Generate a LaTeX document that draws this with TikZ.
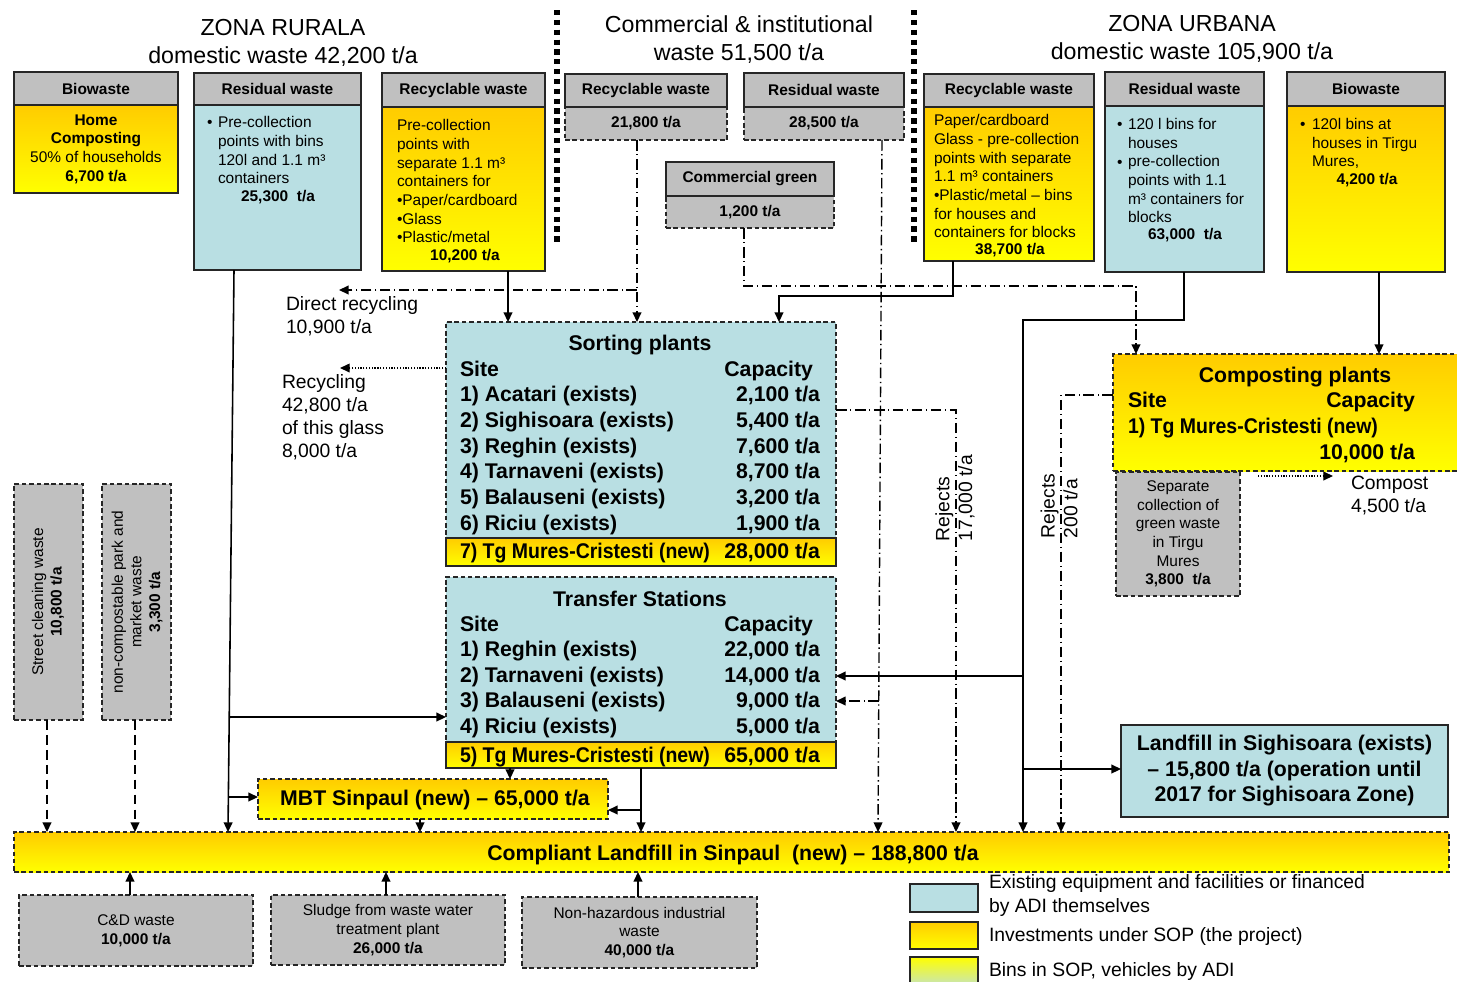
\documentclass[tikz,border=0pt]{standalone}
\usepackage{fontspec}
\setmainfont{Liberation Sans}
\usetikzlibrary{arrows.meta,fit}
\definecolor{grayb}{RGB}{192,192,192}
\definecolor{lblue}{RGB}{185,223,227}
\definecolor{ytop}{RGB}{255,204,0}
\definecolor{ybot}{RGB}{255,255,0}
\newcommand\fzT{\fontsize{13.2}{15.9}\selectfont}
\newcommand\fzS{\fontsize{8.8}{10.6}\selectfont}
\newcommand\fzSB{\fontsize{8.8}{10.6}\selectfont\bfseries}
\newcommand\fzB{\fontsize{12.1}{14.5}\selectfont\bfseries}
\newcommand\fzM{\fontsize{11}{13}\selectfont}
\begin{document}
\begin{tikzpicture}[x=0.02cm,y=-0.02cm,
  every node/.style={inner sep=0pt,outer sep=0pt},
  box/.style={draw=black!85,line width=0.7pt,inner sep=0pt},
  hdr/.style={box,fill=grayb},
  blu/.style={box,fill=lblue},
  ylw/.style={box,top color=ytop,bottom color=ybot},
  gry/.style={box,fill=grayb},
  dsh/.style={dash pattern=on 2.6pt off 1.6pt},
  ts/.style={font=\fzS},
  tsb/.style={font=\fzSB},
  tb/.style={font=\fzB},
  tm/.style={font=\fzM},
  narrowtxt/.style={xscale=0.916},
  arrtip/.style={-{Triangle[length=5.5pt,width=5pt]}},
  arrS/.style={line width=0.9pt,arrtip},
  arrDD/.style={line width=0.8pt,dash pattern=on 6pt off 2pt on 0.8pt off 2pt,arrtip},
  arrDash/.style={line width=0.9pt,dash pattern=on 5.5pt off 3pt,arrtip},
  arrDot/.style={line width=0.7pt,dash pattern=on 0.7pt off 0.9pt,arrtip},
  sepline/.style={line width=3pt,dash pattern=on 3pt off 2.6pt}
]
\useasboundingbox (0,0) rectangle (1457,981);

% ---------- titles and separators
\node[font=\fzT,align=center] (tZR) at (283,43) {ZONA RURALA\\domestic waste 42,200 t/a};
\node[font=\fzT,align=center] (tCI) at (739,40) {Commercial \& institutional\\waste 51,500 t/a};
\node[font=\fzT,align=center] (tZU) at (1192,39) {ZONA URBANA\\domestic waste 105,900 t/a};
\draw[sepline] (557,10) -- (557,246);
\draw[sepline] (914,10) -- (914,246);

% ---------- top boxes: bodies
\node[ylw,fit={(14,105)(178,193)}] (bBioR) {};
\node[blu,fit={(194,105)(361,270)}] (bResR) {};
\node[ylw,fit={(382,107)(545,271)}] (bRecR) {};
\node[gry,dsh,fit={(565,107)(727,140)}] (bRecC) {};
\node[gry,dsh,fit={(744,107)(904,140)}] (bResC) {};
\node[gry,dsh,fit={(666,196)(834,228)}] (bGrn) {};
\node[ylw,fit={(924,107)(1094,261)}] (bRecU) {};
\node[blu,fit={(1105,106)(1264,272)}] (bResU) {};
\node[ylw,fit={(1287,106)(1445,272)}] (bBioU) {};

% ---------- top boxes: headers
\node[hdr,fit={(14,72)(178,105)}] (hBioR) {};
\node[hdr,fit={(194,73)(361,105)}] (hResR) {};
\node[hdr,fit={(382,73)(545,107)}] (hRecR) {};
\node[hdr,fit={(565,74)(727,107)}] (hRecC) {};
\node[hdr,fit={(744,73)(904,107)}] (hResC) {};
\node[hdr,fit={(666,162)(834,196)}] (hGrn) {};
\node[hdr,fit={(924,74)(1094,107)}] (hRecU) {};
\node[hdr,fit={(1105,72)(1264,106)}] (hResU) {};
\node[hdr,fit={(1287,72)(1445,106)}] (hBioU) {};
\node[tsb] (hBioRt) at (hBioR.center) {Biowaste};
\node[tsb] (hResRt) at (hResR.center) {Residual waste};
\node[tsb] (hRecRt) at (hRecR.center) {Recyclable waste};
\node[tsb] (hRecCt) at (hRecC.center) {Recyclable waste};
\node[tsb] (hResCt) at (hResC.center) {Residual waste};
\node[tsb] (hGrnt) at (hGrn.center) {Commercial green};
\node[tsb] (hRecUt) at (hRecU.center) {Recyclable waste};
\node[tsb] (hResUt) at (hResU.center) {Residual waste};
\node[tsb] (hBioUt) at (hBioU.center) {Biowaste};
\node[tsb] (bRecCt) at (bRecC.center) {21,800 t/a};
\node[tsb] (bResCt) at (bResC.center) {28,500 t/a};
\node[tsb] (bGrnt) at (bGrn.center) {1,200 t/a};

% ---------- top box texts
\node[ts,align=center] (bBioRt) at (bBioR.center) {\textbf{Home}\\\textbf{Composting}\\50\% of households\\\textbf{6,700 t/a}};

\node[ts,anchor=mid west] (rrB) at (207,123) {•};
\foreach \t [count=\i from 0] in {Pre-collection,points with bins,{120l and 1.1 m³},containers}
  \node[ts,anchor=mid west] (rr\i) at (218,123+18.7*\i) {\t};
\node[tsb] (rrV) at (278,197) {25,300\ \ t/a};

\foreach \t [count=\i from 0] in {Pre-collection,points with,{separate 1.1 m³},containers for,•Paper/cardboard,•Glass,•Plastic/metal}
  \node[ts,anchor=mid west] (rc\i) at (397,126+18.7*\i) {\t};
\node[tsb] (rcV) at (465,256) {10,200 t/a};

\foreach \t [count=\i from 0] in {Paper/cardboard,Glass - pre-collection,points with separate,{1.1 m³ containers},•Plastic/metal – bins,for houses and,containers for blocks}
  \node[ts,anchor=mid west] (uc\i) at (934,121+18.7*\i) {\t};
\node[tsb] (ucV) at (1010,250) {38,700 t/a};

\node[ts,anchor=mid west] (urB1) at (1117,125) {•};
\node[ts,anchor=mid west] (urB2) at (1117,163) {•};
\foreach \t [count=\i from 0] in {120 l bins for,houses,pre-collection,points with 1.1,m³ containers for,blocks}
  \node[ts,anchor=mid west] (ur\i) at (1128,125+18.6*\i) {\t};
\node[tsb] (urV) at (1185,235) {63,000\ \ t/a};

\node[ts,anchor=mid west] (ubB) at (1300,125) {•};
\foreach \t [count=\i from 0] in {120l bins at,houses in Tirgu,{Mures,}}
  \node[ts,anchor=mid west] (ub\i) at (1312,125+18.6*\i) {\t};
\node[tsb] (ubV) at (1367,180) {4,200 t/a};

% ---------- sorting plants
\node[blu,dsh,fit={(446,322)(836,566)}] (sort) {};
\node[ylw,fit={(446,538)(836,566)}] (sort7) {};
\node[tb] (sortT) at (640,345) {Sorting plants};
\foreach \t [count=\i from 0] in {Site,1) Acatari (exists),2) Sighisoara (exists),3) Reghin (exists),4) Tarnaveni (exists),5) Balauseni (exists),6) Riciu (exists)}
  \node[tb,anchor=mid west] (sl\i) at (460,371.5+25.7*\i) {\t};
\foreach \t [count=\i from 1] in {{2,100 t/a},{5,400 t/a},{7,600 t/a},{8,700 t/a},{3,200 t/a},{1,900 t/a}}
  \node[tb,anchor=mid east] (sr\i) at (820,371.5+25.7*\i) {\t};
\node[tb,anchor=mid east] (sr0) at (813,371.5) {Capacity};
\node[tb,narrowtxt,anchor=mid west] (sl7) at (460,554) {7) Tg Mures-Cristesti (new)};
\node[tb,anchor=mid east] (sr7) at (820,554) {28,000 t/a};

% ---------- transfer stations
\node[blu,dsh,fit={(446,577)(836,768)}] (trans) {};
\node[ylw,fit={(446,742)(836,768)}] (trans5) {};
\node[tb] (transT) at (640,599) {Transfer Stations};
\foreach \t [count=\i from 0] in {Site,1) Reghin (exists),2) Tarnaveni (exists),3) Balauseni (exists),4) Riciu (exists)}
  \node[tb,anchor=mid west] (tl\i) at (460,626.5+25.5*\i) {\t};
\foreach \t [count=\i from 1] in {{22,000 t/a},{14,000 t/a},{9,000 t/a},{5,000 t/a}}
  \node[tb,anchor=mid east] (tr\i) at (820,626.5+25.5*\i) {\t};
\node[tb,anchor=mid east] (tr0) at (813,626.5) {Capacity};
\node[tb,narrowtxt,anchor=mid west] (tl5) at (460,758) {5) Tg Mures-Cristesti (new)};
\node[tb,anchor=mid east] (tr5) at (820,758) {65,000 t/a};

% ---------- composting plants
\node[ylw,dsh,fit={(1113,354)(1465,471)}] (comp) {};
\node[tb] (compT) at (1295,377) {Composting plants};
\node[tb,anchor=mid west] (cl0) at (1128,403) {Site};
\node[tb,anchor=mid east] (cr0) at (1415,403) {Capacity};
\node[tb,narrowtxt,anchor=mid west] (cl1) at (1128,429) {1) Tg Mures-Cristesti (new)};
\node[tb,anchor=mid east] (cr1) at (1415,455) {10,000 t/a};
\node[gry,dsh,fit={(1116,472)(1240,596)}] (sepc) {};
\node[ts,align=center] (sepct) at (sepc.center) {Separate\\collection of\\green waste\\in Tirgu\\Mures\\\textbf{3,800\ \ t/a}};
\node[tm,anchor=mid west] (cmp1) at (1351,485) {Compost};
\node[tm,anchor=mid west] (cmp2) at (1351,508) {4,500 t/a};
\coordinate (cpA) at (1258,476);
\coordinate (cpB) at (1333,476);

% ---------- landfill Sighisoara
\node[blu,fit={(1121,725)(1448,817)}] (lsig) {};
\node[tb,align=center] (lsigt) at (lsig.center) {Landfill in Sighisoara (exists)\\– 15,800 t/a (operation until\\2017 for Sighisoara Zone)};

% ---------- MBT and compliant landfill
\node[ylw,dsh,fit={(258,779)(608,819)}] (mbt) {};
\node[tb] (mbtt) at (435,800) {MBT Sinpaul (new) – 65,000 t/a};
\node[ylw,dsh,fit={(14,832)(1449,872)}] (lf) {};
\node[tb] (lft) at (733,855) {Compliant Landfill in Sinpaul\ \ (new) – 188,800 t/a};

% ---------- left gray boxes
\node[gry,dsh,fit={(14,484)(83,720)}] (street) {};
\node[ts,rotate=90,align=center] (streetT) at (48,602) {Street cleaning waste\\\textbf{10,800 t/a}};
\node[gry,dsh,fit={(102,484)(171,720)}] (park) {};
\node[ts,rotate=90,align=center] (parkT) at (137,602) {non-compostable park and\\market waste\\\textbf{3,300 t/a}};

% ---------- bottom gray boxes
\node[gry,dsh,fit={(19,895)(253,966)}] (cd) {};
\node[ts,align=center] (cdt) at (cd.center) {C\&D waste\\\textbf{10,000 t/a}};
\node[gry,dsh,fit={(271,895)(505,965)}] (sludge) {};
\node[ts,align=center] (sludget) at (sludge.center) {Sludge from waste water\\treatment plant\\\textbf{26,000 t/a}};
\node[gry,dsh,fit={(522,897)(757,968)}] (nonhaz) {};
\node[ts,align=center] (nonhazt) at (nonhaz.center) {Non-hazardous industrial\\waste\\\textbf{40,000 t/a}};

% ---------- free labels
\node[tm,anchor=mid west] (dr1) at (286,306) {Direct recycling};
\node[tm,anchor=mid west] (dr2) at (286,329) {10,900 t/a};
\foreach \t [count=\i from 0] in {Recycling,{42,800 t/a},of this glass,{8,000 t/a}}
  \node[tm,anchor=mid west] (rcy\i) at (282,384+23*\i) {\t};
\node[tm,rotate=90,align=left,anchor=west] (rej1) at (955,541) {Rejects\\17,000 t/a};
\node[tm,rotate=90,align=left,anchor=west] (rej2) at (1059,538) {Rejects\\200 t/a};

% ---------- legend
\node[blu,fit={(910,884)(978,912)}] (lg1) {};
\node[ylw,fit={(910,922)(978,949)}] (lg2) {};
\node[box,top color=ybot,bottom color=lblue,fit={(910,957)(978,992)}] (lg3) {};
\node[tm,anchor=mid west] (lg1a) at (989,884) {Existing equipment and facilities or financed};
\node[tm,anchor=mid west] (lg1b) at (989,908) {by ADI themselves};
\node[tm,anchor=mid west] (lg2a) at (989,937) {Investments under SOP (the project)};
\node[tm,anchor=mid west] (lg3a) at (989,972) {Bins in SOP, vehicles by ADI};

% ---------- connectors
\coordinate (j1) at (229.2,717);
\coordinate (j2) at (228.5,797);
\draw[arrS] (bResR.south -| 234,0) -- (lf.north -| 228,0);
\draw[arrS] (j1) -- (trans.west |- j1);
\draw[arrS] (j2) -- (mbt.west |- j2);
\draw[arrS] (bRecR.south -| 508,0) -- (sort.north -| 508,0);

\coordinate (j3) at (637,290);
\coordinate (drT) at (339,290);
\draw[arrDD] (bRecC.south -| 637,0) -- (sort.north -| 637,0);
\draw[arrDD] (j3) -- (drT);
\coordinate (rcT) at (340,368);
\draw[arrDot] (sort.west |- rcT) -- (rcT);

\coordinate (cg) at (1136,286);
\draw[arrDD] (bGrn.south -| 744,0) |- (cg) -- (comp.north -| cg);
\coordinate (ur) at (779,296);
\draw[arrS] (bRecU.south -| 953,0) |- (ur) -- (sort.north -| ur);

\draw[arrDD] (bResC.south -| 882,0) -- (lf.north -| 878,0);
\coordinate (j4) at (879,701);
\draw[arrDD] (j4) -- (trans.east |- j4);
\draw[arrDD] (sort.east |- 0,410) -| (lf.north -| 956,0);

\coordinate (urs) at (1023,320);
\draw[arrS] (bResU.south -| 1184,0) |- (urs) -- (lf.north -| urs);
\coordinate (j5) at (1023,676);
\draw[arrS] (j5) -- (trans.east |- j5);
\coordinate (j6) at (1023,769);
\draw[arrS] (j6) -- (lsig.west |- j6);

\draw[arrDD] (comp.west |- 0,395) -| (lf.north -| 1061,0);
\draw[arrS] (bBioU.south -| 1379,0) -- (comp.north -| 1379,0);
\draw[arrDot] (cpA) -- (cpB);

\draw[arrS] (trans5.south -| 510,0) -- (mbt.north -| 510,0);
\draw[arrS] (trans5.south -| 641,0) -- (lf.north -| 641,0);
\coordinate (j7) at (641,810);
\draw[arrS] (j7) -- (mbt.east |- j7);
\draw[arrS] (mbt.south -| 420,0) -- (lf.north -| 420,0);

\draw[arrDash] (street.south -| 47,0) -- (lf.north -| 47,0);
\draw[arrDash] (park.south -| 135,0) -- (lf.north -| 135,0);

\draw[arrS] (cd.north -| 130,0) -- (lf.south -| 130,0);
\draw[arrS] (sludge.north -| 386,0) -- (lf.south -| 386,0);
\draw[arrS] (nonhaz.north -| 638,0) -- (lf.south -| 638,0);
\end{tikzpicture}
\end{document}
